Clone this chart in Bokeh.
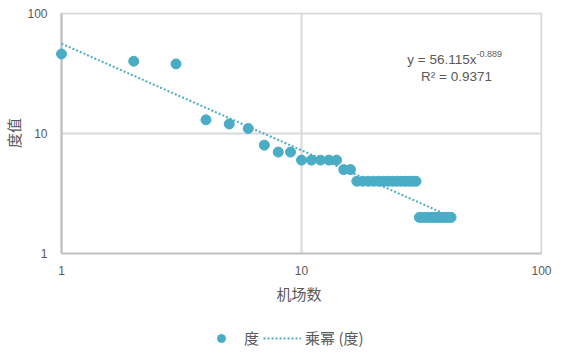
import numpy as np
from bokeh.plotting import figure
from bokeh.layouts import column
from bokeh.models import (Range1d, FixedTicker, PrintfTickFormatter, Legend, LegendItem, Label)
from bokeh.embed import file_html
from bokeh.resources import INLINE

# data
airports = list(range(1, 43))
degree = [46, 40, 38, 13, 12, 11, 8, 7, 7, 6,
          6, 6, 6, 6, 5, 5,
          4, 4, 4, 4, 4, 4, 4, 4, 4, 4, 4, 4, 4, 4,
          2, 2, 2, 2, 2, 2, 2, 2, 2, 2, 2, 2]
ticks = [1, 10, 100]
coef_a = 56.115
coef_b = -0.889
r2 = 0.9371

x_title = "机场数"
y_title = "度值"
series_name = "度"
trend_name = "乘幂 (度)"

COLOR = "#4bacc6"
TXT = "#595959"
GRID = "#d9d9d9"
AXIS = "#bfbfbf"
CJK = "Noto Sans CJK SC"
LAT = "Liberation Sans"

# ranges padded by a few pixels so that edge markers and border lines are not clipped
x_lo = 10 ** (-6 / 240)
x_hi = 10 ** (2 + 1 / 240)
y_hi = 10 ** (2 + 1 / 120)

p = figure(width=583, height=320, x_axis_type="log", y_axis_type="log",
           x_range=Range1d(x_lo, x_hi), y_range=Range1d(1, y_hi),
           output_backend="svg", toolbar_location=None,
           min_border_left=55, min_border_right=41, min_border_top=12, min_border_bottom=67)
p.background_fill_color = "white"
p.border_fill_color = "white"
p.outline_line_color = None

for ax, title in ((p.xaxis[0], x_title), (p.yaxis[0], y_title)):
    ax.ticker = FixedTicker(ticks=ticks, minor_ticks=[])
    ax.formatter = PrintfTickFormatter(format="%d")
    ax.major_tick_line_color = None
    ax.minor_tick_line_color = None
    ax.axis_line_color = AXIS
    ax.axis_line_width = 2
    ax.major_label_text_color = TXT
    ax.major_label_text_font = LAT
    ax.major_label_text_font_size = "12px"
    ax.axis_label = title
    ax.axis_label_text_font = CJK
    ax.axis_label_text_font_size = "15px"
    ax.axis_label_text_font_style = "normal"
    ax.axis_label_text_color = TXT
    ax.bounds = (ticks[0], ticks[-1])

p.yaxis[0].axis_line_color = None
p.yaxis[0].major_label_standoff = 2
p.yaxis[0].axis_label_standoff = 0
p.xaxis[0].major_label_standoff = 6
p.xaxis[0].axis_label_standoff = 5

p.xgrid[0].ticker = FixedTicker(ticks=ticks, minor_ticks=[])
p.xgrid[0].grid_line_color = GRID
p.xgrid[0].grid_line_width = 2
p.ygrid[0].visible = False
# horizontal grid lines limited to the axis span
p.segment(x0=[ticks[0]] * (len(ticks) - 1), y0=ticks[1:],
          x1=[ticks[-1]] * (len(ticks) - 1), y1=ticks[1:],
          line_color=GRID, line_width=2)
# vertical axis line at x = 1
p.segment(x0=[ticks[0]], y0=[ticks[0]], x1=[ticks[0]], y1=[ticks[-1]],
          line_color=AXIS, line_width=2)

tx = [min(airports), max(airports)]
ty = [coef_a * v ** coef_b for v in tx]
line_r = p.line(tx, ty, line_color=COLOR, line_width=2, line_dash="2 2")
sc_r = p.scatter(airports, degree, size=10, fill_color=COLOR, line_color=COLOR)

def dx(px):
    return 10 ** ((px - 61) / 240)

def dy(py):
    return 10 ** ((253 - py) / 120)

p.add_layout(Label(x=dx(476), y=dy(58.5), text="y = %.3fx" % coef_a, text_align="right",
                   text_baseline="alphabetic", text_font=LAT, text_font_size="13.5px", text_color=TXT))
p.add_layout(Label(x=dx(476), y=dy(53.5), text="%.3f" % coef_b, text_align="left",
                   text_baseline="alphabetic", text_font=LAT, text_font_size="9px", text_color=TXT))
p.add_layout(Label(x=dx(456), y=dy(76), text="R² = %.4f" % r2, text_align="center",
                   text_baseline="alphabetic", text_font=LAT, text_font_size="13.5px", text_color=TXT))

# legend strip below the chart (its glyphs are off-range; only the legend shows)
lf = figure(width=583, height=34, x_range=Range1d(1000, 2000), y_range=Range1d(1000, 2000),
            output_backend="svg", toolbar_location=None,
            x_axis_location=None, y_axis_location=None, min_border=0)
lf.outline_line_color = None
lf.grid.visible = False
lf.background_fill_color = "white"
lf.border_fill_color = "white"
l_sc = lf.scatter(airports, degree, size=10, fill_color=COLOR, line_color=COLOR)
l_ln = lf.line(tx, ty, line_color=COLOR, line_width=2, line_dash="2 2")

legend = Legend(items=[LegendItem(label=series_name, renderers=[l_sc]),
                       LegendItem(label=trend_name, renderers=[l_ln])],
                orientation="horizontal", location=(147, 6),
                glyph_width=38, glyph_height=20, label_standoff=4, label_width=15, spacing=4,
                padding=0, margin=0, border_line_alpha=0, background_fill_alpha=0,
                label_text_font=CJK, label_text_font_size="15px", label_text_color=TXT)
lf.add_layout(legend, "center")

open("out.html", "w").write(file_html(column(p, lf, spacing=0), INLINE))
